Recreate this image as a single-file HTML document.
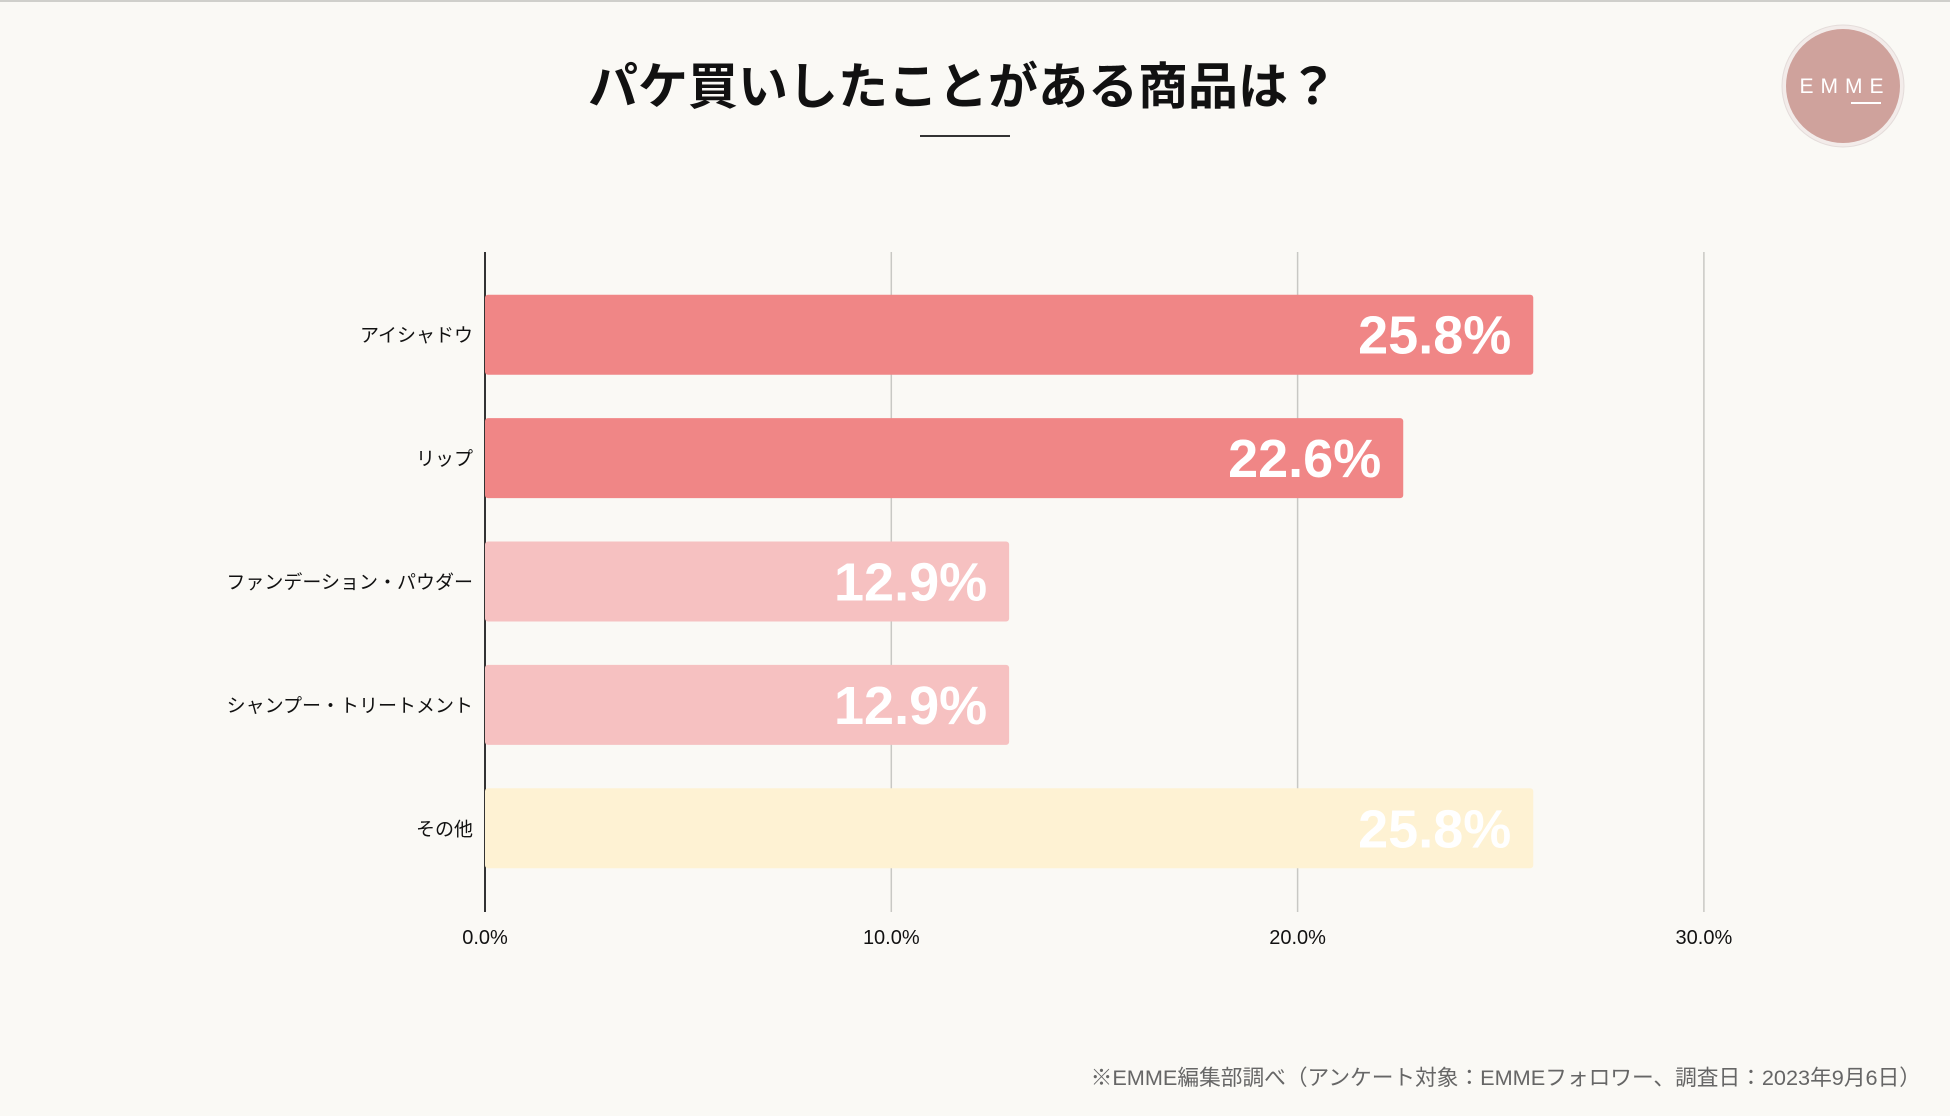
<!DOCTYPE html>
<html><head><meta charset="utf-8"><style>
body{margin:0;width:1950px;height:1111px;background:#faf9f5;overflow:hidden;font-family:"Liberation Sans","Noto Sans CJK JP",sans-serif;}
</style></head><body>
<svg width="1950" height="1111" xmlns="http://www.w3.org/2000/svg">
<rect x="0" y="0" width="1950" height="2" fill="#cfcfcb"/>
<text x="963" y="104" text-anchor="middle" font-size="50" font-weight="bold" fill="#111" font-family="Liberation Sans,Noto Sans CJK JP,sans-serif">パケ買いしたことがある商品は？</text>
<rect x="920" y="135" width="90" height="2" fill="#333"/>
<g>
<circle cx="1843" cy="86" r="61" fill="#f3ecea" stroke="#e4dcda" stroke-width="1"/>
<circle cx="1843" cy="86" r="57" fill="#cfa29c"/>
<text x="1845" y="93" text-anchor="middle" font-size="21" fill="#fff" letter-spacing="7" font-family="Liberation Sans,sans-serif">EMME</text>
<rect x="1851" y="102" width="30" height="2" fill="#fff"/>
</g>
<g id="grid"></g><g id="bars"></g><g id="labels"></g>
<text x="1921" y="1085" text-anchor="end" font-size="21.7" fill="#666" font-family="Liberation Sans,Noto Sans CJK JP,sans-serif">※EMME編集部調べ（アンケート対象：EMMEフォロワー、調査日：2023年9月6日）</text>
</svg>
<script>
const categories=["アイシャドウ","リップ","ファンデーション・パウダー","シャンプー・トリートメント","その他"];
const values=[25.8,22.6,12.9,12.9,25.8];
const barColors=["#f08686","#f08686","#f6c1c1","#f6c1c1","#fef2d3"];
const ticks=[0,10,20,30];
const tickLabels=["0.0%","10.0%","20.0%","30.0%"];
const NS="http://www.w3.org/2000/svg";
const x0=485,pxPer=40.63,plotTop=252,plotBottom=912,bandTop=273,band=123.4,barH=80;
const xs=v=>x0+v*pxPer;
const yc=i=>bandTop+band*(i+0.5);
function mk(t,a){const e=document.createElementNS(NS,t);for(const k in a)e.setAttribute(k,a[k]);return e;}
const g=document.getElementById('grid'),b=document.getElementById('bars'),l=document.getElementById('labels');
ticks.forEach((t,i)=>{
 const ln=mk('line',{x1:xs(t),x2:xs(t),y1:plotTop,y2:plotBottom,stroke:i==0?'#333':'#c8c8c4','stroke-width':i==0?2:1.5});
 
 
 g.appendChild(ln);
 const tx=mk('text',{x:xs(t),y:944,'text-anchor':'middle','font-size':20,fill:'#111'});
 tx.textContent=tickLabels[i];
 
 
 l.appendChild(tx);
});
categories.forEach((c,i)=>{
 const r=mk('rect',{x:x0,y:yc(i)-barH/2,width:xs(values[i])-x0,height:barH,fill:barColors[i],rx:3});
 
 
 b.appendChild(r);
 const v=mk('text',{x:xs(values[i])-22,y:yc(i)+19,'text-anchor':'end','font-size':54,'font-weight':'bold',fill:'#fff'});
 v.textContent=values[i].toFixed(1)+'%';
 
 
 l.appendChild(v);
 const cl=mk('text',{x:473,y:yc(i)+7,'text-anchor':'end','font-size':19,fill:'#111'});
 cl.textContent=c;
 
 
 l.appendChild(cl);
});
</script>
</body></html>
